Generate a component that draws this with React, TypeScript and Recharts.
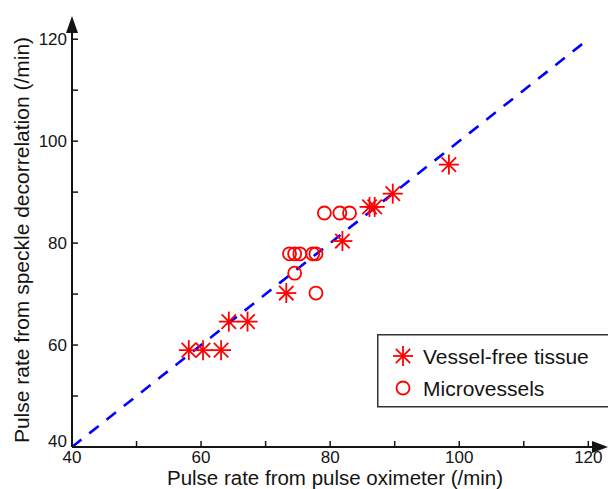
import React from "react";
import {
  Legend,
  ReferenceDot,
  ReferenceLine,
  Scatter,
  ScatterChart,
  XAxis,
  YAxis,
} from "recharts";

const RED = "#FF0000";
const BLUE = "#0000FF";
const INK = "#141414";
const FONT = '"Liberation Sans", Arial, Helvetica, sans-serif';

// pulse oximeter (x) vs speckle decorrelation (y), per group
const vesselFreeX = [58.1, 60.3, 63.1, 64.3, 67.2, 73.2, 81.9, 86.1, 86.9, 89.7, 98.4];
const vesselFreeY = [59.0, 59.0, 59.0, 64.6, 64.6, 70.2, 80.4, 87.1, 87.1, 89.7, 95.4];
const microX = [79.1, 81.5, 83.0, 73.7, 74.5, 75.3, 77.3, 77.8, 74.5, 77.8];
const microY = [85.9, 85.9, 85.9, 77.9, 77.9, 77.9, 77.9, 77.9, 74.1, 70.2];

const axisTicks = [40, 50, 60, 70, 80, 90, 100, 110, 120];
const labeledTicks = [40, 60, 80, 100, 120];
const identityEnds = [40, 120];

const X_MAX = 121.5;
const Y_MAX = 122;

const vesselFree = vesselFreeX.map((x, i) => ({ x, y: vesselFreeY[i] }));
const microvessels = microX.map((x, i) => ({ x, y: microY[i] }));

function Asterisk({ cx, cy }: { cx?: number; cy?: number }) {
  if (cx == null || cy == null) return null;
  const r = 10;
  const d = 7.2;
  return (
    <g stroke={RED} strokeWidth={1.8}>
      <line x1={cx - r} y1={cy} x2={cx + r} y2={cy} />
      <line x1={cx} y1={cy - r} x2={cx} y2={cy + r} />
      <line x1={cx - d} y1={cy - d} x2={cx + d} y2={cy + d} />
      <line x1={cx - d} y1={cy + d} x2={cx + d} y2={cy - d} />
    </g>
  );
}

function Ring({ cx, cy }: { cx?: number; cy?: number }) {
  if (cx == null || cy == null) return null;
  return <circle cx={cx} cy={cy} r={6.5} fill="none" stroke={RED} strokeWidth={1.8} />;
}

function XTick({ x, y, payload }: any) {
  const v = payload.value;
  return (
    <g>
      <line x1={x} y1={y} x2={x} y2={y - 6} stroke={INK} strokeWidth={1.5} />
      {labeledTicks.includes(v) && (
        <text x={x} y={y + 16} textAnchor="middle" fontSize={17} fill={INK} fontFamily={FONT}>
          {v}
        </text>
      )}
    </g>
  );
}

function YTick({ x, y, payload }: any) {
  const v = payload.value;
  // the lowest label sits a little higher so it clears the x-axis "40"
  const lift = v === 40 ? -6 : 0;
  return (
    <g>
      <line x1={x} y1={y} x2={x + 6} y2={y} stroke={INK} strokeWidth={1.5} />
      {labeledTicks.includes(v) && (
        <text
          x={x - 5}
          y={y + lift}
          dy="0.36em"
          textAnchor="end"
          fontSize={17}
          fill={INK}
          fontFamily={FONT}
        >
          {v}
        </text>
      )}
    </g>
  );
}

function UpArrow({ cx, cy }: any) {
  return <path d={`M${cx},${cy - 13} L${cx + 6},${cy + 4} L${cx - 6},${cy + 4} Z`} fill={INK} />;
}

function RightArrow({ cx, cy }: any) {
  return <path d={`M${cx + 10},${cy} L${cx - 6},${cy - 6} L${cx - 6},${cy + 6} Z`} fill={INK} />;
}

function LegendBox() {
  return (
    <svg width={231} height={74} style={{ display: "block" }}>
      <rect x={0.75} y={0.75} width={260} height={72} fill="#fff" stroke="#333" strokeWidth={1.5} />
      <Asterisk cx={26} cy={22} />
      <text x={46} y={22} dy="0.36em" fontSize={21} fill={INK} fontFamily={FONT}>
        Vessel-free tissue
      </text>
      <Ring cx={26} cy={54} />
      <text x={46} y={54} dy="0.36em" fontSize={21} fill={INK} fontFamily={FONT}>
        Microvessels
      </text>
    </svg>
  );
}

export default function App() {
  return (
    <div style={{ position: "absolute", left: 0, top: 0, background: "#fff" }}>
      <ScatterChart width={608} height={489} margin={{ top: 29, right: 10, left: 0, bottom: 0 }}>
        <XAxis
          type="number"
          dataKey="x"
          domain={[40, X_MAX]}
          ticks={axisTicks}
          tick={<XTick />}
          tickLine={false}
          tickSize={0}
          tickMargin={0}
          height={42}
          axisLine={{ stroke: INK, strokeWidth: 2 }}
          label={{
            content: ({ viewBox }: any) => (
              <text
                x={viewBox.x + viewBox.width / 2}
                y={485}
                textAnchor="middle"
                fontSize={20.5}
                fill={INK}
                fontFamily={FONT}
              >
                Pulse rate from pulse oximeter (/min)
              </text>
            ),
          }}
        />
        <YAxis
          type="number"
          dataKey="y"
          domain={[40, Y_MAX]}
          ticks={axisTicks}
          tick={<YTick />}
          tickLine={false}
          tickSize={0}
          tickMargin={0}
          width={72}
          axisLine={{ stroke: INK, strokeWidth: 2 }}
          label={{
            content: ({ viewBox }: any) => {
              const cy = viewBox.y + viewBox.height / 2 + 2;
              return (
                <text
                  x={29}
                  y={cy}
                  transform={`rotate(-90, 29, ${cy})`}
                  textAnchor="middle"
                  fontSize={21}
                  fill={INK}
                  fontFamily={FONT}
                >
                  Pulse rate from speckle decorrelation (/min)
                </text>
              );
            },
          }}
        />
        <ReferenceLine
          segment={[
            { x: identityEnds[0], y: identityEnds[0] },
            { x: identityEnds[1], y: identityEnds[1] },
          ]}
          stroke={BLUE}
          strokeWidth={2.6}
          strokeDasharray="12 10"
          ifOverflow="visible"
        />
        <ReferenceDot x={40} y={Y_MAX} shape={<UpArrow />} ifOverflow="visible" />
        <ReferenceDot x={X_MAX} y={40} shape={<RightArrow />} ifOverflow="visible" />
        <Scatter
          name="Vessel-free tissue"
          data={vesselFree}
          shape={<Asterisk />}
          isAnimationActive={false}
        />
        <Scatter
          name="Microvessels"
          data={microvessels}
          shape={<Ring />}
          isAnimationActive={false}
        />
        <Legend
          layout="horizontal"
          verticalAlign="middle"
          align="center"
          content={() => <LegendBox />}
          wrapperStyle={{ position: "absolute", left: 377, top: 334, width: 231, height: 74 }}
        />
      </ScatterChart>
    </div>
  );
}
